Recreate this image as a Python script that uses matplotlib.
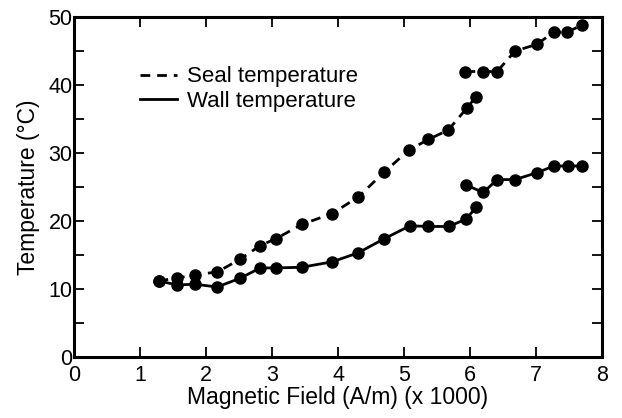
import numpy as np
import matplotlib
matplotlib.use('Agg')
import matplotlib.pyplot as plt
from matplotlib.ticker import MultipleLocator

plt.rcParams['font.family'] = ['Liberation Sans', 'DejaVu Sans']

# Seal temperature, low-field branch and high-field branch
seal_x_lo = [1.28, 1.56, 1.83, 2.17, 2.52, 2.82, 3.06, 3.45, 3.91, 4.30, 4.70, 5.08, 5.37, 5.67, 5.95, 6.09]
seal_y_lo = [11.2, 11.6, 12.1, 12.5, 14.4, 16.4, 17.4, 19.5, 21.1, 23.5, 27.2, 30.5, 32.0, 33.4, 36.6, 38.3]
seal_x_hi = [5.93, 6.19, 6.41, 6.68, 7.01, 7.27, 7.47, 7.69]
seal_y_hi = [42.0, 42.0, 42.0, 45.0, 46.0, 47.8, 47.8, 48.8]

# Wall temperature
wall_x_lo = [1.28, 1.56, 1.83, 2.17, 2.52, 2.82, 3.06, 3.45, 3.91, 4.30, 4.70, 5.09, 5.37, 5.68, 5.94, 6.09]
wall_y_lo = [11.2, 10.6, 10.7, 10.3, 11.6, 13.1, 13.1, 13.2, 14.0, 15.3, 17.4, 19.3, 19.2, 19.2, 20.3, 22.0]
wall_x_hi = [5.94, 6.20, 6.41, 6.68, 7.01, 7.27, 7.48, 7.69]
wall_y_hi = [25.3, 24.2, 26.1, 26.1, 27.1, 28.1, 28.1, 28.1]

fig = plt.figure(figsize=(6.22, 4.18), dpi=100)
ax = fig.add_axes([0.119, 0.146, 0.849, 0.813])

kw = dict(color='black', lw=2.0, marker='o', ms=8)
dash = (0, (3.5, 2.5))
ax.plot(seal_x_lo, seal_y_lo, ls=dash, label='Seal temperature', **kw)
ax.plot(seal_x_hi, seal_y_hi, ls=dash, **kw)
ax.plot(wall_x_lo, wall_y_lo, ls='-', label='Wall temperature', **kw)
ax.plot(wall_x_hi, wall_y_hi, ls='-', **kw)

ax.set_xlim(0, 8)
ax.set_ylim(0, 50)
ax.xaxis.set_major_locator(MultipleLocator(1))
ax.yaxis.set_major_locator(MultipleLocator(10))
ax.yaxis.set_minor_locator(MultipleLocator(5))
ax.tick_params(which='both', direction='in', top=True, right=True, width=1.3)
ax.tick_params(which='major', length=7, labelsize=15.5)
ax.tick_params(which='minor', length=7)
ax.tick_params(axis='y', pad=1)
ax.tick_params(axis='x', pad=6)
for s in ax.spines.values():
    s.set_linewidth(2.2)

ax.set_xlabel('Magnetic Field (A/m) (x 1000)', fontsize=16.5, labelpad=0)
ax.set_ylabel('Temperature (°C)', fontsize=16.5, labelpad=6)

leg = ax.legend(loc='upper left', bbox_to_anchor=(0.103, 0.888), frameon=False,
                fontsize=16, handlelength=1.7, handletextpad=0.45, labelspacing=0.16, borderpad=0)
for line in leg.get_lines():
    line.set_marker('')

fig.savefig('out.png', dpi=100)
